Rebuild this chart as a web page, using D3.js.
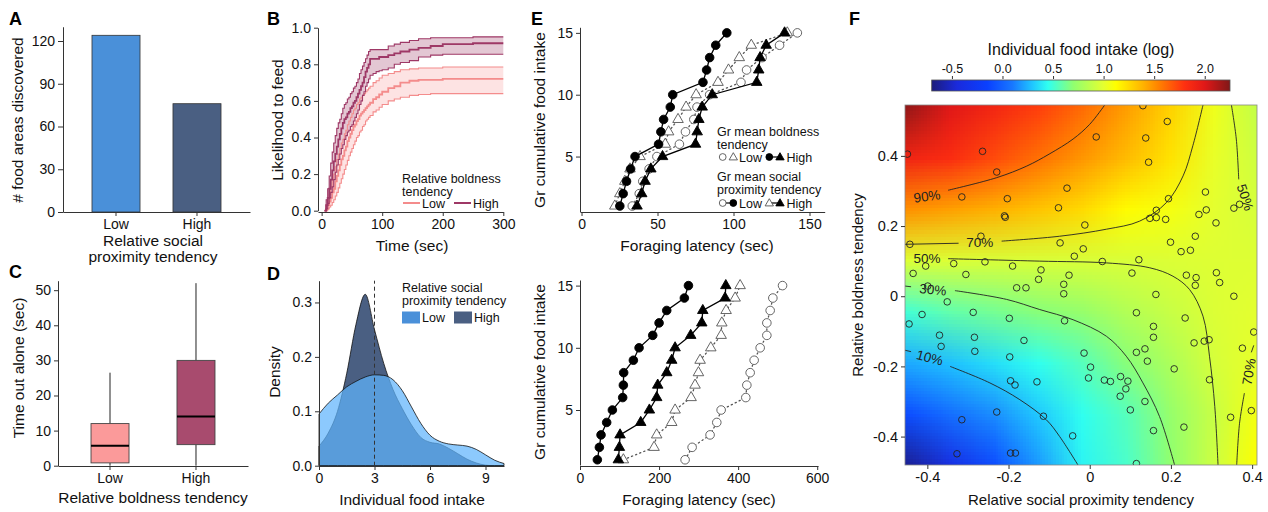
<!DOCTYPE html>
<html>
<head>
<meta charset="utf-8">
<script src="https://cdn.jsdelivr.net/npm/d3@7"></script>
<style>
  body { margin: 0; background: #fff; }
</style>
</head>
<body>
<svg id="fig" width="1268" height="512"></svg>
<script>
const FONT = '"Liberation Sans", Arial, Helvetica, sans-serif'

/* ----------  DATA  ---------- */
// A: food areas discovered by social proximity group
const socialLevels = ['Low', 'High']
const foodAreasFound = [124, 76]
const socialColors = ['#4a90d9', '#4a5f82']
const ticksA = [0, 30, 60, 90, 120]

// B: likelihood to feed (step curves with confidence band)
const timeB = [5, 7.5, 10, 12.5, 15, 17.5, 20, 22.5, 25, 27.5, 30, 32.5, 35, 37.5, 40, 42.5, 45, 47.5, 50, 52.5, 55, 57.5, 60, 62.5, 65, 67.5, 70, 72.5, 75, 77.5, 80,
  85, 90, 95, 100, 110, 120, 130, 145, 160, 180, 200, 250, 300]
const highMean = [0, 0.03, 0.07, 0.12, 0.17, 0.22, 0.27, 0.31, 0.35, 0.39, 0.42, 0.45, 0.48, 0.5, 0.51, 0.53, 0.54, 0.56, 0.57, 0.59, 0.6, 0.62, 0.64, 0.66, 0.68, 0.7, 0.73, 0.76, 0.78, 0.8, 0.83,
  0.83, 0.83, 0.84, 0.84, 0.85, 0.86, 0.87, 0.88, 0.89, 0.9, 0.91, 0.915, 0.915]
const highUpper = [0, 0.06, 0.12, 0.19, 0.26, 0.32, 0.37, 0.41, 0.45, 0.48, 0.5, 0.53, 0.56, 0.58, 0.59, 0.61, 0.62, 0.64, 0.65, 0.67, 0.68, 0.7, 0.72, 0.75, 0.77, 0.79, 0.81, 0.83, 0.85, 0.87, 0.88,
  0.88, 0.88, 0.88, 0.88, 0.9, 0.91, 0.92, 0.93, 0.94, 0.945, 0.945, 0.95, 0.95]
const highLower = [0, 0.01, 0.04, 0.07, 0.1, 0.13, 0.17, 0.21, 0.25, 0.28, 0.31, 0.34, 0.36, 0.39, 0.41, 0.43, 0.44, 0.46, 0.47, 0.49, 0.51, 0.53, 0.55, 0.58, 0.6, 0.63, 0.65, 0.68, 0.7, 0.72, 0.74,
  0.75, 0.76, 0.765, 0.77, 0.78, 0.8, 0.81, 0.82, 0.84, 0.85, 0.855, 0.855, 0.855]
const lowMean = [0, 0.01, 0.03, 0.05, 0.07, 0.1, 0.12, 0.16, 0.19, 0.22, 0.25, 0.28, 0.3, 0.33, 0.35, 0.38, 0.4, 0.42, 0.44, 0.46, 0.47, 0.49, 0.5, 0.52, 0.53, 0.54, 0.55, 0.56, 0.57, 0.58, 0.59,
  0.61, 0.62, 0.635, 0.65, 0.67, 0.68, 0.7, 0.71, 0.715, 0.715, 0.72, 0.72, 0.72]
const lowUpper = [0, 0.03, 0.06, 0.09, 0.13, 0.17, 0.2, 0.24, 0.28, 0.31, 0.34, 0.37, 0.39, 0.42, 0.44, 0.47, 0.49, 0.51, 0.53, 0.55, 0.56, 0.58, 0.59, 0.61, 0.62, 0.63, 0.64, 0.65, 0.66, 0.67, 0.68,
  0.7, 0.71, 0.725, 0.74, 0.75, 0.76, 0.77, 0.775, 0.78, 0.78, 0.785, 0.785, 0.785]
const lowLower = [0, 0, 0.01, 0.02, 0.03, 0.045, 0.06, 0.08, 0.1, 0.125, 0.15, 0.175, 0.2, 0.225, 0.25, 0.275, 0.3, 0.32, 0.34, 0.36, 0.38, 0.4, 0.41, 0.43, 0.44, 0.46, 0.47, 0.49, 0.5, 0.51, 0.52,
  0.54, 0.55, 0.565, 0.58, 0.6, 0.61, 0.62, 0.63, 0.635, 0.64, 0.64, 0.64, 0.64]
const boldColors = ['#f48c8c', '#9e3866']
const boldBands = ['#fcd9d9', '#d9b4c4']

// C: time out alone, box stats per boldness group
const boldLevels = ['Low', 'High']
const whiskerLow = [0, 0]
const quart1 = [0.8, 6]
const medianC = [5.7, 14]
const quart3 = [12, 30]
const whiskerHigh = [26.5, 52]
const boxColors = ['#fb9a9a', '#a84b6e']

// D: density of individual food intake
const intakeX = [0, 0.5, 1, 1.5, 2, 2.5, 3, 3.5, 4, 4.5, 5, 5.5, 6, 6.5, 7, 7.5, 8, 8.5, 9, 9.5, 10]
const densLow = [0.095, 0.115, 0.13, 0.145, 0.155, 0.163, 0.167, 0.166, 0.158, 0.138, 0.108, 0.078, 0.056, 0.045, 0.04, 0.038, 0.036, 0.03, 0.02, 0.01, 0.004]
const densHigh = [0.036, 0.06, 0.1, 0.17, 0.26, 0.315, 0.25, 0.188, 0.14, 0.105, 0.075, 0.052, 0.043, 0.04, 0.032, 0.022, 0.012, 0.005, 0.001, 0, 0]

// E: group cumulative food intake vs foraging latency
const intakeSteps = [1, 2, 3, 4, 5, 6, 7, 8, 9, 10, 11, 12, 13, 14, 15]
const topBoldHighSocLow = [25.2, 27.4, 29.6, 32.3, 35.2, 50.7, 52.2, 54, 58.4, 60, 79.9, 82.3, 84.3, 88.3, 95.6]
const topBoldHighSocHigh = [36.5, 39.6, 41.8, 45.6, 53.3, 75, 76.1, 77.2, 79.4, 86, 115.3, 116.6, 117.5, 121.5, 133.6]
const topBoldLowSocLow = [33.4, 38, 40.3, 44.5, 49.6, 64.4, 68.4, 73.9, 76, 84.3, 104.9, 108.6, 118.8, 130.3, 142]
const topBoldLowSocHigh = [21.9, 25.2, 28.5, 31.9, 38.5, 55.1, 57.3, 63.5, 68.8, 75.4, 89.8, 96.7, 103.8, 111.7, 135.4]
const botBoldHighSocLow = [43.9, 49, 53.2, 67.5, 81.9, 108, 109.7, 110.5, 135, 149.4, 184, 200, 219.4, 264, 274.3]
const botBoldHighSocHigh = [97, 99.6, 101.3, 153.6, 175.5, 194, 196.6, 219.4, 232, 240.5, 280, 308, 310.6, 367, 368.8]
const botBoldLowSocLow = [265.8, 283.6, 329, 346, 357, 419.4, 422, 430.4, 440.5, 455.7, 472.6, 472.6, 481, 487.8, 512.3]
const botBoldLowSocHigh = [109.7, 187.3, 194, 232, 240.5, 281, 291, 299.6, 303.8, 330.8, 357, 358.7, 369.6, 392.4, 405]

// F: fitted surface (log food intake) on a grid, observed points, contours
const gridX = [-0.455, -0.347, -0.238, -0.130, -0.022, 0.087, 0.195, 0.304, 0.412]
const gridY = [0.545, 0.398, 0.252, 0.105, -0.041, -0.188, -0.334, -0.481]
const gridVals = [
  [2.2, 2.0, 1.88, 1.76, 1.62, 1.46, 1.28, 1.05, 0.88],
  [1.9, 1.83, 1.72, 1.6, 1.48, 1.36, 1.22, 1.02, 0.92],
  [1.5, 1.45, 1.4, 1.33, 1.25, 1.13, 1.08, 1.0, 0.95],
  [0.98, 0.97, 0.96, 0.96, 0.96, 0.96, 0.97, 0.98, 0.98],
  [0.5, 0.58, 0.63, 0.68, 0.72, 0.82, 0.9, 0.97, 1.0],
  [0.22, 0.28, 0.36, 0.45, 0.55, 0.68, 0.8, 0.95, 1.02],
  [-0.1, 0.05, 0.15, 0.3, 0.45, 0.55, 0.72, 0.9, 1.08],
  [-0.65, -0.4, -0.1, 0.18, 0.42, 0.52, 0.7, 0.92, 1.12]
]
const heatStops = [-0.7, -0.45, -0.15, 0.1, 0.3, 0.45, 0.7, 1.0, 1.12, 1.4, 1.55, 1.8, 2.0, 2.25]
const heatColors = ['#1c1c7c', '#1a2adc', '#0a40ff', '#1878ff', '#20c8ff', '#30fff0', '#90ff70', '#e4ff30', '#ffff00', '#ffb000', '#ff8000', '#ff3010', '#e01818', '#801818']
const colorbarTicks = [-0.5, 0, 0.5, 1.0, 1.5, 2.0]

const pointsX = [-0.449, -0.264, -0.229, -0.315, -0.203, -0.210, -0.208, -0.443, -0.268, -0.435, -0.404, -0.335, -0.305, -0.258, -0.190, -0.180, -0.157, -0.126, -0.120, -0.077, -0.073, -0.399,
  0.131, 0.191, 0.016, 0.138, 0.145, -0.056, -0.012, 0.194, 0.164, 0.148, 0.164, 0.187, 0.285, 0.287, 0.269, 0.311, 0.355, 0.369,
  -0.016, -0.038, 0.031, 0.121, 0.199, 0.260, 0.225, 0.248, -0.051, -0.064, -0.064, 0.104, 0.163, 0.238, 0.262, 0.260, 0.312, 0.320, 0.355,
  -0.351, -0.413, -0.445, -0.287, -0.198, -0.370, -0.366, -0.284, -0.283, -0.162, -0.197, -0.195, -0.184, -0.130, -0.229, -0.315, -0.114, -0.327, -0.195, -0.183,
  0.115, -0.062, 0.235, 0.157, 0.157, 0.404, 0.257, 0.282, 0.294, 0.376, -0.014, 0.115, 0.136, 0.142, 0.002, -0.003, 0.036, 0.051, 0.076, 0.094, 0.089, 0.075,
  0.208, 0.295, 0.136, 0.100, -0.042, 0.157, 0.232, 0.347, 0.398, 0.115]
const pointsY = [0.405, 0.413, 0.354, 0.283, 0.278, 0.229, 0.225, 0.148, 0.171, 0.065, 0.086, 0.093, 0.062, 0.098, 0.086, 0.024, 0.024, 0.048, 0.075, 0.252, 0.152, 0.029,
  0.543, 0.498, 0.454, 0.451, 0.382, 0.308, 0.203, 0.278, 0.245, 0.222, 0.224, 0.219, 0.297, 0.246, 0.233, 0.209, 0.251, 0.262,
  0.135, 0.114, 0.099, 0.104, 0.154, 0.171, 0.127, 0.131, 0.06, 0.034, 0.007, 0.066, 0.005, 0.06, 0.053, 0.031, 0.067, 0.039, 0.0,
  -0.016, -0.052, -0.079, -0.046, -0.063, -0.111, -0.143, -0.117, -0.157, -0.126, -0.173, -0.241, -0.253, -0.244, -0.330, -0.352, -0.342, -0.449, -0.447, -0.447,
  -0.047, -0.070, -0.062, -0.086, -0.117, -0.102, -0.133, -0.128, -0.124, -0.148, -0.162, -0.160, -0.150, -0.185, -0.202, -0.233, -0.239, -0.243, -0.229, -0.242, -0.264, -0.285,
  -0.207, -0.238, -0.300, -0.324, -0.398, -0.383, -0.373, -0.345, -0.326, -0.477]

const contourLines = [
  [[-0.349, 0.302], [-0.229, 0.338], [-0.155, 0.371], [-0.1, 0.405], [-0.041, 0.448], [0.0, 0.49], [0.037, 0.545]],
  [[-0.455, 0.148], [-0.323, 0.151]],
  [[-0.217, 0.157], [-0.074, 0.171], [0.041, 0.191], [0.123, 0.214], [0.189, 0.267], [0.23, 0.343], [0.254, 0.429], [0.279, 0.545]],
  [[-0.349, 0.107], [-0.123, 0.1], [0.041, 0.095], [0.148, 0.081], [0.205, 0.057], [0.246, 0.019], [0.279, -0.057], [0.295, -0.171], [0.308, -0.314], [0.316, -0.481]],
  [[0.349, 0.545], [0.361, 0.448], [0.367, 0.333]],
  [[0.362, -0.481], [0.369, -0.362], [0.381, -0.276]],
  [[0.398, -0.16], [0.404, -0.14]],
  [[-0.455, 0.029], [-0.44, 0.027]],
  [[-0.332, 0.016], [-0.205, -0.009], [-0.123, -0.038], [-0.041, -0.067], [0.041, -0.114], [0.09, -0.171], [0.131, -0.247], [0.172, -0.343], [0.209, -0.481]],
  [[-0.455, -0.154], [-0.44, -0.158]],
  [[-0.344, -0.2], [-0.246, -0.247], [-0.172, -0.295], [-0.107, -0.352], [-0.074, -0.40], [-0.029, -0.481]]
]
const contourText = ['90%', '70%', '50%', '30%', '10%', '50%', '70%']
const contourTextX = [-0.401, -0.271, -0.401, -0.386, -0.394, 0.383, 0.392]
const contourTextY = [0.285, 0.153, 0.107, 0.019, -0.175, 0.282, -0.215]
const contourTextAngle = [-8, 0, 0, 5, 15, 72, -80]

/* ----------  HELPERS  ---------- */
const svg = d3.select('#fig')
const TICK_FS = 14
const TITLE_FS = 15.5

function styleAxis (g, fs) {
  g.attr('font-size', fs || TICK_FS).attr('font-family', FONT)
  g.select('.domain').attr('stroke', '#333')
  g.selectAll('.tick line').attr('stroke', '#333')
  g.selectAll('.tick text').attr('fill', '#111')
  return g
}

function label (x, y, str, o = {}) {
  const t = svg.append('text')
    .attr('x', x).attr('y', y)
    .attr('font-family', FONT)
    .attr('font-size', o.size || TITLE_FS)
    .attr('fill', o.fill || '#111')
    .attr('text-anchor', o.anchor || 'start')
    .text(str)
  if (o.weight) t.attr('font-weight', o.weight)
  if (o.rotate) t.attr('transform', `rotate(${o.rotate},${x},${y})`)
  return t
}

const fmt1 = d => d === 0 ? '0' : d.toFixed(1)

/* ----------  PANEL LETTERS  ---------- */
;[['A', 9, 25], ['B', 267, 25], ['C', 9, 278], ['D', 267, 280], ['E', 531, 25], ['F', 849, 25]]
  .forEach(([t, x, y]) => label(x, y, t, { size: 18, weight: 'bold', fill: '#000' }))

/* ----------  A: BAR CHART  ---------- */
const xA = d3.scaleBand().domain(socialLevels).range([63, 250]).paddingInner(0.407).paddingOuter(0.358)
const yA = d3.scaleLinear().domain([0, 130]).range([212, 26.75])

svg.append('g').selectAll('rect').data(socialLevels).join('rect')
  .attr('x', d => xA(d))
  .attr('y', (d, i) => yA(foodAreasFound[i]))
  .attr('width', xA.bandwidth())
  .attr('height', (d, i) => yA(0) - yA(foodAreasFound[i]))
  .attr('fill', (d, i) => socialColors[i])
  .attr('stroke', '#333').attr('stroke-width', 0.8)

styleAxis(svg.append('g').attr('transform', 'translate(63,0)')
  .call(d3.axisLeft(yA).tickValues(ticksA).tickSize(5).tickSizeOuter(0)))
styleAxis(svg.append('g').attr('transform', 'translate(0,212)')
  .call(d3.axisBottom(xA).tickSize(4).tickSizeOuter(0)))
label(23, 120, '# food areas discovered', { anchor: 'middle', rotate: -90 })
label(153, 246, 'Relative social', { anchor: 'middle' })
label(153, 262, 'proximity tendency', { anchor: 'middle' })

/* ----------  B: LIKELIHOOD TO FEED  ---------- */
const xB = d3.scaleLinear().domain([-6, 300]).range([318, 503.3])
const yB = d3.scaleLinear().domain([0, 1]).range([210.7, 27.7])
const bandB = d3.area().curve(d3.curveStepAfter).x(d => xB(d[0])).y0(d => yB(d[1])).y1(d => yB(d[2]))
const stepB = d3.line().curve(d3.curveStepAfter).x(d => xB(d[0])).y(d => yB(d[1]))
const groupsB = [
  { mean: lowMean, lo: lowLower, hi: lowUpper, i: 0 },
  { mean: highMean, lo: highLower, hi: highUpper, i: 1 }
]
groupsB.forEach(g => {
  svg.append('path').datum(timeB.map((t, k) => [t, g.lo[k], g.hi[k]]))
    .attr('d', bandB).attr('fill', boldBands[g.i]).attr('fill-opacity', 0.75)
})
groupsB.forEach(g => {
  ;[g.lo, g.hi, g.mean].forEach((arr, j) => {
    svg.append('path').datum(timeB.map((t, k) => [t, arr[k]]))
      .attr('d', stepB).attr('fill', 'none')
      .attr('stroke', boldColors[g.i]).attr('stroke-width', j === 2 ? 1.8 : 1.1)
  })
})
styleAxis(svg.append('g').attr('transform', 'translate(318,0)')
  .call(d3.axisLeft(yB).tickValues([0, 0.2, 0.4, 0.6, 0.8, 1.0]).tickFormat(d3.format('.1f')).tickSize(4).tickSizeOuter(0)))
styleAxis(svg.append('g').attr('transform', 'translate(0,212)')
  .call(d3.axisBottom(xB).tickValues([0, 100, 200, 300]).tickSize(4).tickSizeOuter(0)))
label(283, 120, 'Likelihood to feed', { anchor: 'middle', rotate: -90 })
label(412, 251, 'Time (sec)', { anchor: 'middle' })
label(402, 183, 'Relative boldness', { size: 12.5 })
label(402, 196, 'tendency', { size: 12.5 })
;[0, 1].forEach(i => {
  const x0 = 403 + i * 51
  svg.append('line').attr('x1', x0).attr('x2', x0 + 17).attr('y1', 203).attr('y2', 203)
    .attr('stroke', boldColors[i]).attr('stroke-width', 2)
  label(x0 + 19, 207.5, boldLevels[i], { size: 12.5 })
})

/* ----------  C: BOX PLOT  ---------- */
const xC = d3.scaleBand().domain(boldLevels).range([58, 248]).paddingInner(0.558).paddingOuter(0.384)
const yC = d3.scaleLinear().domain([0, 52.7]).range([465.7, 280.7])
boldLevels.forEach((d, i) => {
  const cx = xC(d) + xC.bandwidth() / 2
  svg.append('line').attr('x1', cx).attr('x2', cx).attr('y1', yC(whiskerHigh[i])).attr('y2', yC(quart3[i])).attr('stroke', '#222')
  svg.append('line').attr('x1', cx).attr('x2', cx).attr('y1', yC(quart1[i])).attr('y2', yC(whiskerLow[i])).attr('stroke', '#222')
  svg.append('rect').attr('x', xC(d)).attr('width', xC.bandwidth())
    .attr('y', yC(quart3[i])).attr('height', yC(quart1[i]) - yC(quart3[i]))
    .attr('fill', boxColors[i]).attr('stroke', '#444').attr('stroke-width', 0.9)
  svg.append('line').attr('x1', xC(d)).attr('x2', xC(d) + xC.bandwidth())
    .attr('y1', yC(medianC[i])).attr('y2', yC(medianC[i])).attr('stroke', '#000').attr('stroke-width', 2)
})
styleAxis(svg.append('g').attr('transform', 'translate(58,0)')
  .call(d3.axisLeft(yC).tickValues([0, 10, 20, 30, 40, 50]).tickSize(4).tickSizeOuter(0)))
styleAxis(svg.append('g').attr('transform', 'translate(0,466)')
  .call(d3.axisBottom(xC).tickSize(4).tickSizeOuter(0)))
label(24, 368, 'Time out alone (sec)', { anchor: 'middle', rotate: -90 })
label(153, 503, 'Relative boldness tendency', { anchor: 'middle' })

/* ----------  D: DENSITY  ---------- */
const xD = d3.scaleLinear().domain([0, 10]).range([319, 504])
const yD = d3.scaleLinear().domain([0, 0.34]).range([465.7, 280.7])
const areaD = arr => d3.area().curve(d3.curveMonotoneX)
  .x((d, i) => xD(intakeX[i])).y0(yD(0)).y1(d => yD(d))(arr)
svg.append('path').attr('d', areaD(densHigh)).attr('fill', socialColors[1]).attr('stroke', '#111').attr('stroke-width', 0.8)
svg.append('path').attr('d', areaD(densLow)).attr('fill', 'rgb(95,180,252)').attr('fill-opacity', 0.72)
  .attr('stroke', '#111').attr('stroke-width', 0.8)
svg.append('line').attr('x1', xD(3)).attr('x2', xD(3)).attr('y1', yD(0)).attr('y2', yD(0.34))
  .attr('stroke', '#333').attr('stroke-dasharray', '4,3')
styleAxis(svg.append('g').attr('transform', 'translate(319,0)')
  .call(d3.axisLeft(yD).tickValues([0, 0.1, 0.2, 0.3]).tickFormat(d3.format('.1f')).tickSize(4).tickSizeOuter(0)))
styleAxis(svg.append('g').attr('transform', 'translate(0,466)')
  .call(d3.axisBottom(xD).tickValues([0, 3, 6, 9]).tickSize(4).tickSizeOuter(0)))
label(280, 372, 'Density', { anchor: 'middle', rotate: -90 })
label(412, 505, 'Individual food intake', { anchor: 'middle' })
label(402, 292, 'Relative social', { size: 12.5 })
label(402, 305, 'proximity tendency', { size: 12.5 })
;[0, 1].forEach(i => {
  const x0 = 402 + i * 52
  svg.append('rect').attr('x', x0).attr('y', 311.5).attr('width', 18).attr('height', 12).attr('fill', socialColors[i])
  label(x0 + 20, 321.5, socialLevels[i], { size: 12.5 })
})

/* ----------  E: CUMULATIVE INTAKE  ---------- */
function symbolPath (shape, r) {
  return shape === 'circle'
    ? d3.symbol(d3.symbolCircle, Math.PI * r * r)()
    : d3.symbol(d3.symbolTriangle, r * r * 2.6)()
}
function drawSeries (xs, ys, xvals, filled, shape) {
  const pts = xvals.map((v, i) => [xs(v), ys(intakeSteps[i])])
  svg.append('path').attr('d', d3.line()(pts)).attr('fill', 'none')
    .attr('stroke', filled ? '#000' : '#555')
    .attr('stroke-width', 1.3)
    .attr('stroke-dasharray', filled ? null : '1.2,3.2')
    .attr('stroke-linecap', 'round')
  svg.append('g').selectAll('path').data(pts).join('path')
    .attr('transform', d => `translate(${d[0]},${d[1]})`)
    .attr('d', symbolPath(shape, 4.3))
    .attr('fill', filled ? '#000' : '#fff')
    .attr('stroke', filled ? '#000' : '#555').attr('stroke-width', 0.9)
}

const xEt = d3.scaleLinear().domain([-1, 160]).range([580, 824.7])
const yEt = d3.scaleLinear().domain([0.55, 15.45]).range([211.6, 27.3])
drawSeries(xEt, yEt, topBoldLowSocLow, false, 'circle')
drawSeries(xEt, yEt, topBoldLowSocHigh, false, 'triangle')
drawSeries(xEt, yEt, topBoldHighSocLow, true, 'circle')
drawSeries(xEt, yEt, topBoldHighSocHigh, true, 'triangle')
styleAxis(svg.append('g').attr('transform', 'translate(580,0)')
  .call(d3.axisLeft(yEt).tickValues([5, 10, 15]).tickSize(4).tickSizeOuter(0)))
styleAxis(svg.append('g').attr('transform', 'translate(0,212)')
  .call(d3.axisBottom(xEt).tickValues([0, 50, 100, 150]).tickSize(4).tickSizeOuter(0)))
label(545, 120, 'Gr cumulative food intake', { anchor: 'middle', rotate: -90 })
label(697, 251, 'Foraging latency (sec)', { anchor: 'middle' })

const xEb = d3.scaleLinear().domain([0, 602]).range([580, 818])
const yEb = d3.scaleLinear().domain([0.58, 15.45]).range([465, 280])
drawSeries(xEb, yEb, botBoldLowSocLow, false, 'circle')
drawSeries(xEb, yEb, botBoldLowSocHigh, false, 'triangle')
drawSeries(xEb, yEb, botBoldHighSocLow, true, 'circle')
drawSeries(xEb, yEb, botBoldHighSocHigh, true, 'triangle')
styleAxis(svg.append('g').attr('transform', 'translate(580,0)')
  .call(d3.axisLeft(yEb).tickValues([5, 10, 15]).tickSize(4).tickSizeOuter(0)))
styleAxis(svg.append('g').attr('transform', 'translate(0,466)')
  .call(d3.axisBottom(xEb).tickValues([0, 200, 400, 600]).tickSize(4).tickSizeOuter(0)))
label(545, 372, 'Gr cumulative food intake', { anchor: 'middle', rotate: -90 })
label(699, 505, 'Foraging latency (sec)', { anchor: 'middle' })

// legend E
function legendSym (x, y, filled, shape) {
  svg.append('path').attr('transform', `translate(${x},${y})`)
    .attr('d', symbolPath(shape, 3.4))
    .attr('fill', filled ? '#000' : '#fff')
    .attr('stroke', filled ? '#000' : '#555').attr('stroke-width', 0.9)
}
function legendLine (x1, x2, y) {
  svg.append('line').attr('x1', x1).attr('x2', x2).attr('y1', y).attr('y2', y)
    .attr('stroke', '#000').attr('stroke-width', 1.2)
}
label(717, 136, 'Gr mean boldness', { size: 12.5 })
label(717, 149, 'tendency', { size: 12.5 })
legendSym(722.7, 157, false, 'circle'); legendSym(733.3, 157.5, false, 'triangle')
label(739, 161.5, 'Low', { size: 12.5 })
legendLine(769.3, 780, 157)
legendSym(769.3, 157, true, 'circle'); legendSym(780, 157.5, true, 'triangle')
label(786.5, 161.5, 'High', { size: 12.5 })
label(717, 181, 'Gr mean social', { size: 12.5 })
label(717, 194, 'proximity tendency', { size: 12.5 })
legendLine(722.7, 733.3, 203)
legendSym(722.7, 203, false, 'circle'); legendSym(733.3, 203, true, 'circle')
label(739, 207.5, 'Low', { size: 12.5 })
legendLine(769.3, 780, 203)
legendSym(769.3, 203.5, false, 'triangle'); legendSym(780, 203.5, true, 'triangle')
label(786.5, 207.5, 'High', { size: 12.5 })

/* ----------  F: SURFACE  ---------- */
const xF = d3.scaleLinear().domain([-0.455, 0.412]).range([905, 1257])
const yF = d3.scaleLinear().domain([-0.481, 0.545]).range([465, 105])
const heat = d3.scaleLinear().domain(heatStops).range(heatColors).clamp(true)

svg.append('clipPath').attr('id', 'clipF').append('rect')
  .attr('x', 905).attr('y', 105).attr('width', 352).attr('height', 360)

// small raster of the grid, smoothed by the browser when scaled up
const nx = gridX.length
const ny = gridY.length
const cvs = document.createElement('canvas')
cvs.width = nx
cvs.height = ny
const ctx = cvs.getContext('2d')
const img = ctx.createImageData(nx, ny)
gridVals.forEach((row, j) => row.forEach((v, i) => {
  const c = d3.rgb(heat(v))
  const k = (j * nx + i) * 4
  img.data[k] = c.r; img.data[k + 1] = c.g; img.data[k + 2] = c.b; img.data[k + 3] = 255
}))
ctx.putImageData(img, 0, 0)
const cw = (xF(gridX[nx - 1]) - xF(gridX[0])) / (nx - 1)
const ch = (yF(gridY[ny - 1]) - yF(gridY[0])) / (ny - 1)
const gF = svg.append('g').attr('clip-path', 'url(#clipF)')
gF.append('image')
  .attr('href', cvs.toDataURL())
  .attr('x', xF(gridX[0]) - cw / 2).attr('y', yF(gridY[0]) - ch / 2)
  .attr('width', cw * nx).attr('height', ch * ny)
  .attr('preserveAspectRatio', 'none')
  .style('image-rendering', 'auto')

const lineF = d3.line().curve(d3.curveCatmullRom).x(d => xF(d[0])).y(d => yF(d[1]))
contourLines.forEach(c => {
  gF.append('path').attr('d', lineF(c)).attr('fill', 'none').attr('stroke', '#222').attr('stroke-width', 0.9)
})
contourText.forEach((t, i) => {
  const x = xF(contourTextX[i])
  const y = yF(contourTextY[i])
  gF.append('text').attr('x', x).attr('y', y).attr('dy', '0.35em')
    .attr('text-anchor', 'middle').attr('font-family', FONT).attr('font-size', 13.5)
    .attr('fill', '#222')
    .attr('transform', `rotate(${contourTextAngle[i]},${x},${y})`)
    .text(t)
})
gF.append('g').selectAll('circle').data(pointsX).join('circle')
  .attr('cx', d => xF(d)).attr('cy', (d, i) => yF(pointsY[i]))
  .attr('r', 3.3).attr('fill', 'none').attr('stroke', '#222').attr('stroke-width', 0.9)

svg.append('rect').attr('x', 905).attr('y', 105).attr('width', 352).attr('height', 360)
  .attr('fill', 'none').attr('stroke', '#888').attr('stroke-width', 0.8)

styleAxis(svg.append('g').attr('transform', 'translate(905,0)')
  .call(d3.axisLeft(yF).tickValues([-0.4, -0.2, 0, 0.2, 0.4]).tickFormat(fmt1).tickSize(4).tickSizeOuter(0)), 14.5)
  .select('.domain').remove()
styleAxis(svg.append('g').attr('transform', 'translate(0,465)')
  .call(d3.axisBottom(xF).tickValues([-0.4, -0.2, 0, 0.2, 0.4]).tickFormat(fmt1).tickSize(4).tickSizeOuter(0)), 14.5)
  .select('.domain').remove()
label(863, 285, 'Relative boldness tendency', { anchor: 'middle', rotate: -90, size: 15 })
label(1081, 505, 'Relative social proximity tendency', { anchor: 'middle', size: 15 })

// colour bar
const xCB = d3.scaleLinear().domain([-0.7, 2.25]).range([931.7, 1230])
const grad = svg.append('defs').append('linearGradient').attr('id', 'cbGrad')
heatStops.forEach((s, i) => {
  grad.append('stop').attr('offset', (s - heatStops[0]) / (heatStops[heatStops.length - 1] - heatStops[0]))
    .attr('stop-color', heatColors[i])
})
svg.append('rect').attr('x', 931.7).attr('y', 80).attr('width', 1230 - 931.7).attr('height', 11)
  .attr('fill', 'url(#cbGrad)').attr('stroke', '#555').attr('stroke-width', 0.8)
const cbAxis = styleAxis(svg.append('g').attr('transform', 'translate(0,79)')
  .call(d3.axisTop(xCB).tickValues(colorbarTicks).tickFormat(d => d.toFixed(1)).tickSize(3).tickSizeOuter(0)), 12.5)
cbAxis.select('.domain').remove()
label(1081, 55, 'Individual food intake (log)', { anchor: 'middle', size: 16 })
</script>
</body>
</html>
